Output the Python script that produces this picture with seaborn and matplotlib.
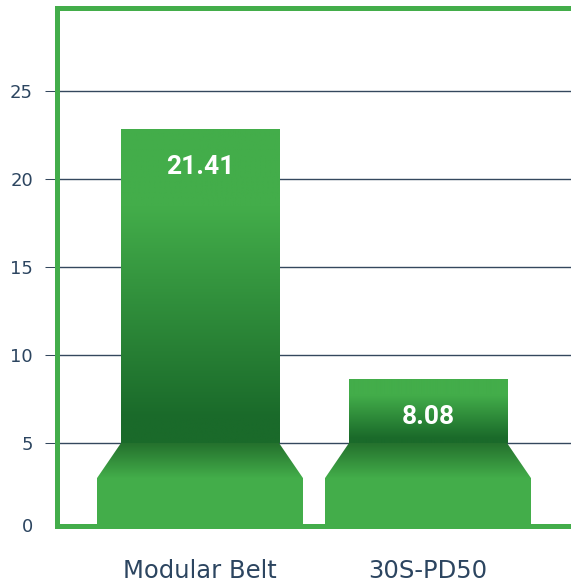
import numpy as np
import pandas as pd
import matplotlib
matplotlib.use("Agg")
import matplotlib.pyplot as plt
import seaborn as sns
from matplotlib.colors import LinearSegmentedColormap
from matplotlib.patches import Polygon, Rectangle
from matplotlib.transforms import blended_transform_factory

# ---- data ----
categories = ["Modular Belt", "30S-PD50"]
bar_heights = [22.85, 8.63]          # drawn bar tops on the 0-25 axis
value_labels = ["21.41", "8.08"]     # printed values
y_ticks = [0, 5, 10, 15, 20, 25]

LIGHT = "#43ad4a"
DARK = "#1a6a2a"
NAVY = "#2c4560"
GRID = "#34485e"

sns.set_theme(style="white")
plt.rcParams["font.family"] = ["DejaVu Sans"]

W, H = 571, 584
PX = 17.6                      # pixels per data unit
zero_px = 531                  # pixel row of value 0
bottom_px = 529                # bottom of the plot (clip)
top_px = 8
y_lo = (zero_px - bottom_px) / PX
y_hi = (zero_px - top_px) / PX
frame_y = (zero_px - 526) / PX

fig = plt.figure(figsize=(W / 100, H / 100), dpi=100)
ax = fig.add_axes([57 / W, (H - bottom_px) / H, (580 - 57) / W,
                   (bottom_px - top_px) / H])

df = pd.DataFrame({"category": categories, "height": bar_heights})
sns.barplot(data=df, x="category", y="height", width=0.693, color=LIGHT,
            saturation=1, ax=ax, zorder=3)

XLIM = (-0.6272, 1 + (580 - 428) / 228)

bar_cmap = LinearSegmentedColormap.from_list(
    "bar", [(0.0, DARK), (0.08, DARK), (0.75, LIGHT), (1.0, LIGHT)])
trap_cmap = LinearSegmentedColormap.from_list(
    "trap", [(0.0, LIGHT), (1.0, "#236f2c")])

base_w = 0.904
grad = np.linspace(0, 1, 256).reshape(-1, 1)
for patch, lab in zip(list(ax.patches), value_labels):
    x0 = patch.get_x()
    w = patch.get_width()
    h = patch.get_height()
    cx = x0 + w / 2
    patch.set_facecolor("none")
    patch.set_edgecolor("none")
    # gradient body
    im = ax.imshow(grad, cmap=bar_cmap, origin="lower", aspect="auto",
                   extent=[x0, x0 + w, 5, h], zorder=3, interpolation="bilinear")
    clip = Rectangle((x0, 5), w, h - 5, transform=ax.transData)
    im.set_clip_path(clip)
    # trapezoid
    poly = Polygon([(cx - base_w / 2, 3), (cx + base_w / 2, 3),
                    (cx + w / 2, 5), (cx - w / 2, 5)], closed=True,
                   facecolor="none", edgecolor="none")
    ax.add_patch(poly)
    im2 = ax.imshow(grad, cmap=trap_cmap, origin="lower", aspect="auto",
                    extent=[cx - base_w / 2, cx + base_w / 2, 3, 5], zorder=3,
                    interpolation="bilinear")
    im2.set_clip_path(poly)
    # base block
    ax.add_patch(Rectangle((cx - base_w / 2, 0), base_w, 3, facecolor=LIGHT,
                           edgecolor="none", zorder=3))
    ax.annotate(lab, xy=(cx, h), xytext=(0, -27.5), textcoords="offset points",
                ha="center", va="center", color="white", fontweight="bold",
                fontsize=19, family=["Roboto", "DejaVu Sans"], zorder=6)

ax.set_xlim(*XLIM)
ax.set_ylim(y_lo, y_hi)

ax.set_yticks(y_ticks[1:])
ax.set_yticklabels([str(t) for t in y_ticks[1:]])
# the 0 label sits just at the frame edge
trans = blended_transform_factory(ax.transAxes, ax.transData)
ax.text(-(12 + 12) / (580 - 57), 0.2, str(y_ticks[0]), transform=trans,
        ha="right", va="center", fontsize=13, color=NAVY)

ax.yaxis.grid(True, color=GRID, lw=1)
ax.set_axisbelow(True)
ax.tick_params(axis="y", left=True, length=8.6, width=0.75, color=GRID,
               pad=8.6, labelsize=13, labelcolor=NAVY)
ax.tick_params(axis="x", bottom=False, length=0, pad=24, labelsize=17.5,
               labelcolor=NAVY)
ax.set_xlabel("")
ax.set_ylabel("")

for s in ax.spines.values():
    s.set_color(LIGHT)
    s.set_linewidth(3.6)
    s.set_zorder(5)
    s.set_visible(True)
ax.spines["bottom"].set_position(("data", frame_y))
ax.spines["left"].set_bounds(frame_y, y_hi)

fig.savefig("out.png", dpi=100)
